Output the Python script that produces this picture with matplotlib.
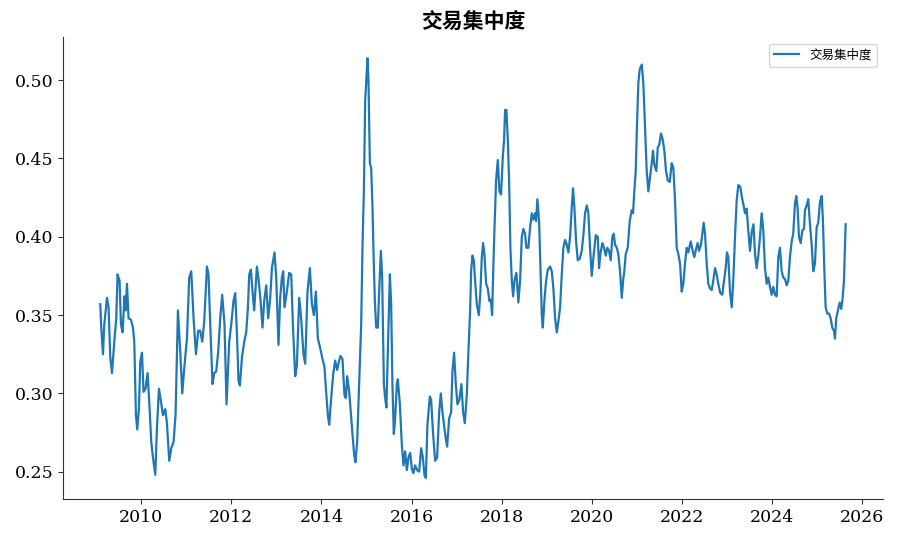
import matplotlib
matplotlib.use('Agg')
import matplotlib.pyplot as plt

plt.rcParams['font.family'] = ['DejaVu Serif', 'Noto Sans CJK SC']
plt.rcParams['axes.unicode_minus'] = False

# 时间（小数年）与交易集中度数值
years = [
    2009.090, 2009.112, 2009.150, 2009.179, 2009.239, 2009.274, 2009.312, 2009.350, 2009.401, 2009.445,
    2009.474, 2009.518, 2009.550, 2009.585, 2009.629, 2009.652, 2009.683, 2009.718, 2009.771, 2009.816,
    2009.845, 2009.882, 2009.911, 2009.949, 2009.978, 2010.016, 2010.051, 2010.095, 2010.140, 2010.184,
    2010.222, 2010.260, 2010.311, 2010.348, 2010.393, 2010.437, 2010.482, 2010.533, 2010.570, 2010.621,
    2010.666, 2010.717, 2010.761, 2010.814, 2010.865, 2010.910, 2010.954, 2011.014, 2011.065, 2011.110,
    2011.161, 2011.214, 2011.265, 2011.309, 2011.354, 2011.398, 2011.458, 2011.493, 2011.531, 2011.582,
    2011.620, 2011.664, 2011.709, 2011.753, 2011.797, 2011.848, 2011.893, 2011.953, 2011.997, 2012.048,
    2012.086, 2012.124, 2012.159, 2012.190, 2012.235, 2012.286, 2012.330, 2012.368, 2012.397, 2012.434,
    2012.470, 2012.507, 2012.567, 2012.603, 2012.647, 2012.692, 2012.729, 2012.774, 2012.818, 2012.863,
    2012.900, 2012.958, 2012.996, 2013.047, 2013.084, 2013.122, 2013.151, 2013.180, 2013.233, 2013.284,
    2013.329, 2013.366, 2013.417, 2013.455, 2013.506, 2013.550, 2013.601, 2013.639, 2013.690, 2013.743,
    2013.788, 2013.832, 2013.877, 2013.921, 2013.972, 2014.023, 2014.067, 2014.099, 2014.143, 2014.172,
    2014.216, 2014.260, 2014.305, 2014.349, 2014.378, 2014.422, 2014.467, 2014.511, 2014.542, 2014.571,
    2014.616, 2014.644, 2014.689, 2014.726, 2014.755, 2014.793, 2014.844, 2014.882, 2014.911, 2014.942,
    2014.971, 2015.000, 2015.022, 2015.044, 2015.075, 2015.104, 2015.133, 2015.155, 2015.186, 2015.215,
    2015.252, 2015.281, 2015.319, 2015.348, 2015.386, 2015.414, 2015.443, 2015.474, 2015.519, 2015.548,
    2015.576, 2015.607, 2015.636, 2015.674, 2015.696, 2015.741, 2015.785, 2015.821, 2015.858, 2015.896,
    2015.931, 2015.969, 2016.007, 2016.042, 2016.080, 2016.124, 2016.169, 2016.213, 2016.251, 2016.287,
    2016.318, 2016.353, 2016.406, 2016.435, 2016.479, 2016.524, 2016.568, 2016.613, 2016.650, 2016.686,
    2016.730, 2016.761, 2016.790, 2016.835, 2016.879, 2016.908, 2016.945, 2016.983, 2017.019, 2017.063,
    2017.107, 2017.145, 2017.183, 2017.227, 2017.263, 2017.301, 2017.323, 2017.352, 2017.383, 2017.411,
    2017.449, 2017.494, 2017.529, 2017.560, 2017.589, 2017.618, 2017.656, 2017.693, 2017.729, 2017.760,
    2017.789, 2017.818, 2017.840, 2017.877, 2017.915, 2017.951, 2017.988, 2018.026, 2018.055, 2018.077,
    2018.106, 2018.137, 2018.166, 2018.195, 2018.226, 2018.255, 2018.284, 2018.328, 2018.372, 2018.410,
    2018.448, 2018.483, 2018.521, 2018.550, 2018.594, 2018.632, 2018.670, 2018.705, 2018.743, 2018.765,
    2018.794, 2018.832, 2018.861, 2018.892, 2018.914, 2018.949, 2018.987, 2019.025, 2019.076, 2019.113,
    2019.149, 2019.187, 2019.224, 2019.260, 2019.298, 2019.335, 2019.371, 2019.409, 2019.446, 2019.482,
    2019.520, 2019.557, 2019.586, 2019.615, 2019.653, 2019.690, 2019.735, 2019.779, 2019.815, 2019.852,
    2019.890, 2019.926, 2019.963, 2020.001, 2020.045, 2020.090, 2020.134, 2020.163, 2020.192, 2020.236,
    2020.274, 2020.312, 2020.347, 2020.385, 2020.423, 2020.458, 2020.489, 2020.518, 2020.556, 2020.591,
    2020.629, 2020.667, 2020.703, 2020.718, 2020.755, 2020.800, 2020.844, 2020.889, 2020.917, 2020.946,
    2020.977, 2021.006, 2021.035, 2021.066, 2021.111, 2021.146, 2021.184, 2021.221, 2021.257, 2021.295,
    2021.332, 2021.361, 2021.390, 2021.435, 2021.466, 2021.501, 2021.539, 2021.577, 2021.612, 2021.650,
    2021.687, 2021.732, 2021.776, 2021.812, 2021.850, 2021.887, 2021.923, 2021.961, 2021.998, 2022.034,
    2022.071, 2022.109, 2022.145, 2022.198, 2022.242, 2022.278, 2022.315, 2022.353, 2022.382, 2022.426,
    2022.464, 2022.486, 2022.515, 2022.553, 2022.588, 2022.626, 2022.664, 2022.699, 2022.737, 2022.775,
    2022.810, 2022.855, 2022.899, 2022.937, 2022.974, 2023.003, 2023.032, 2023.070, 2023.108, 2023.143,
    2023.181, 2023.218, 2023.254, 2023.298, 2023.336, 2023.365, 2023.403, 2023.440, 2023.476, 2023.514,
    2023.551, 2023.591, 2023.625, 2023.662, 2023.698, 2023.736, 2023.773, 2023.809, 2023.847, 2023.884,
    2023.920, 2023.958, 2023.995, 2024.031, 2024.068, 2024.106, 2024.142, 2024.179, 2024.217, 2024.253,
    2024.290, 2024.328, 2024.364, 2024.401, 2024.439, 2024.474, 2024.512, 2024.541, 2024.572, 2024.601,
    2024.639, 2024.674, 2024.712, 2024.734, 2024.772, 2024.807, 2024.845, 2024.883, 2024.918, 2024.956,
    2024.994, 2025.029, 2025.067, 2025.105, 2025.134, 2025.163, 2025.193, 2025.229, 2025.267, 2025.305,
    2025.340, 2025.378, 2025.400, 2025.429, 2025.466, 2025.504, 2025.540, 2025.571, 2025.600, 2025.637,
]

concentration = [
    0.357, 0.342, 0.325, 0.344, 0.361, 0.355, 0.323, 0.313, 0.333, 0.348,
    0.376, 0.372, 0.344, 0.339, 0.362, 0.353, 0.370, 0.348, 0.347, 0.342,
    0.333, 0.286, 0.277, 0.291, 0.320, 0.326, 0.301, 0.303, 0.313, 0.291,
    0.269, 0.259, 0.248, 0.278, 0.303, 0.295, 0.286, 0.290, 0.281, 0.257,
    0.265, 0.269, 0.286, 0.353, 0.327, 0.300, 0.316, 0.335, 0.374, 0.378,
    0.348, 0.325, 0.340, 0.340, 0.333, 0.346, 0.381, 0.376, 0.344, 0.306,
    0.313, 0.314, 0.327, 0.348, 0.363, 0.344, 0.293, 0.333, 0.344, 0.359,
    0.364, 0.338, 0.308, 0.305, 0.323, 0.333, 0.339, 0.355, 0.376, 0.379,
    0.365, 0.353, 0.381, 0.373, 0.360, 0.342, 0.359, 0.369, 0.348, 0.361,
    0.380, 0.390, 0.374, 0.331, 0.361, 0.374, 0.378, 0.355, 0.365, 0.377,
    0.376, 0.344, 0.311, 0.318, 0.361, 0.348, 0.325, 0.319, 0.365, 0.380,
    0.357, 0.350, 0.365, 0.335, 0.329, 0.322, 0.317, 0.303, 0.286, 0.280,
    0.297, 0.312, 0.321, 0.315, 0.319, 0.324, 0.322, 0.299, 0.297, 0.311,
    0.301, 0.291, 0.274, 0.261, 0.256, 0.269, 0.312, 0.344, 0.393, 0.429,
    0.487, 0.502, 0.514, 0.500, 0.447, 0.444, 0.419, 0.391, 0.359, 0.342,
    0.342, 0.365, 0.391, 0.374, 0.306, 0.297, 0.291, 0.327, 0.376, 0.357,
    0.306, 0.274, 0.284, 0.306, 0.309, 0.293, 0.267, 0.254, 0.263, 0.251,
    0.259, 0.262, 0.252, 0.249, 0.254, 0.251, 0.250, 0.265, 0.259, 0.248,
    0.246, 0.280, 0.298, 0.296, 0.274, 0.257, 0.259, 0.288, 0.300, 0.288,
    0.278, 0.271, 0.266, 0.284, 0.288, 0.314, 0.326, 0.306, 0.293, 0.296,
    0.306, 0.288, 0.281, 0.299, 0.327, 0.353, 0.378, 0.388, 0.385, 0.372,
    0.357, 0.350, 0.365, 0.387, 0.396, 0.389, 0.370, 0.367, 0.359, 0.360,
    0.350, 0.383, 0.404, 0.436, 0.449, 0.429, 0.427, 0.451, 0.462, 0.481,
    0.481, 0.462, 0.436, 0.393, 0.372, 0.362, 0.372, 0.377, 0.358, 0.372,
    0.400, 0.405, 0.402, 0.393, 0.393, 0.406, 0.415, 0.411, 0.415, 0.410,
    0.424, 0.410, 0.380, 0.350, 0.342, 0.359, 0.372, 0.379, 0.381, 0.378,
    0.367, 0.348, 0.339, 0.346, 0.355, 0.376, 0.393, 0.398, 0.395, 0.390,
    0.400, 0.419, 0.431, 0.419, 0.397, 0.385, 0.386, 0.391, 0.401, 0.415,
    0.420, 0.415, 0.393, 0.375, 0.389, 0.401, 0.400, 0.380, 0.389, 0.396,
    0.393, 0.388, 0.393, 0.391, 0.385, 0.400, 0.402, 0.395, 0.393, 0.389,
    0.378, 0.361, 0.374, 0.376, 0.389, 0.393, 0.410, 0.417, 0.415, 0.429,
    0.442, 0.472, 0.498, 0.507, 0.510, 0.498, 0.470, 0.442, 0.429, 0.438,
    0.447, 0.455, 0.446, 0.442, 0.457, 0.459, 0.466, 0.462, 0.455, 0.442,
    0.436, 0.435, 0.447, 0.444, 0.423, 0.393, 0.389, 0.383, 0.365, 0.370,
    0.383, 0.393, 0.390, 0.397, 0.391, 0.387, 0.392, 0.396, 0.391, 0.395,
    0.404, 0.409, 0.402, 0.383, 0.370, 0.367, 0.366, 0.372, 0.380, 0.376,
    0.370, 0.364, 0.363, 0.372, 0.380, 0.390, 0.387, 0.365, 0.355, 0.372,
    0.400, 0.423, 0.433, 0.432, 0.425, 0.421, 0.415, 0.418, 0.404, 0.391,
    0.403, 0.408, 0.389, 0.380, 0.388, 0.400, 0.415, 0.404, 0.380, 0.370,
    0.374, 0.368, 0.363, 0.368, 0.363, 0.362, 0.387, 0.393, 0.378, 0.374,
    0.373, 0.369, 0.372, 0.387, 0.397, 0.402, 0.421, 0.426, 0.418, 0.400,
    0.396, 0.404, 0.405, 0.417, 0.420, 0.424, 0.408, 0.395, 0.378, 0.383,
    0.406, 0.409, 0.422, 0.426, 0.410, 0.380, 0.355, 0.351, 0.351, 0.348,
    0.342, 0.340, 0.335, 0.348, 0.353, 0.358, 0.354, 0.361, 0.372, 0.408,
]

x_ticks = list(range(2010, 2027, 2))

fig, ax = plt.subplots(figsize=(9, 5.4), dpi=100)
ax.plot(years, concentration, color='#1f77b4', linewidth=1.6, label='交易集中度')

ax.set_title('交易集中度', fontsize=15, fontweight='semibold')
ax.set_xticks(x_ticks)
ax.set_xticklabels([str(t) for t in x_ticks])
ax.tick_params(axis='both', labelsize=12.5, color='#333333')
ax.spines['top'].set_visible(False)
ax.spines['right'].set_visible(False)
for s in ['left', 'bottom']:
    ax.spines[s].set_color('#333333')
ax.legend(loc='upper right', fontsize=9)

plt.subplots_adjust(left=0.07, right=0.981, top=0.931, bottom=0.076)
plt.savefig('out.png')
